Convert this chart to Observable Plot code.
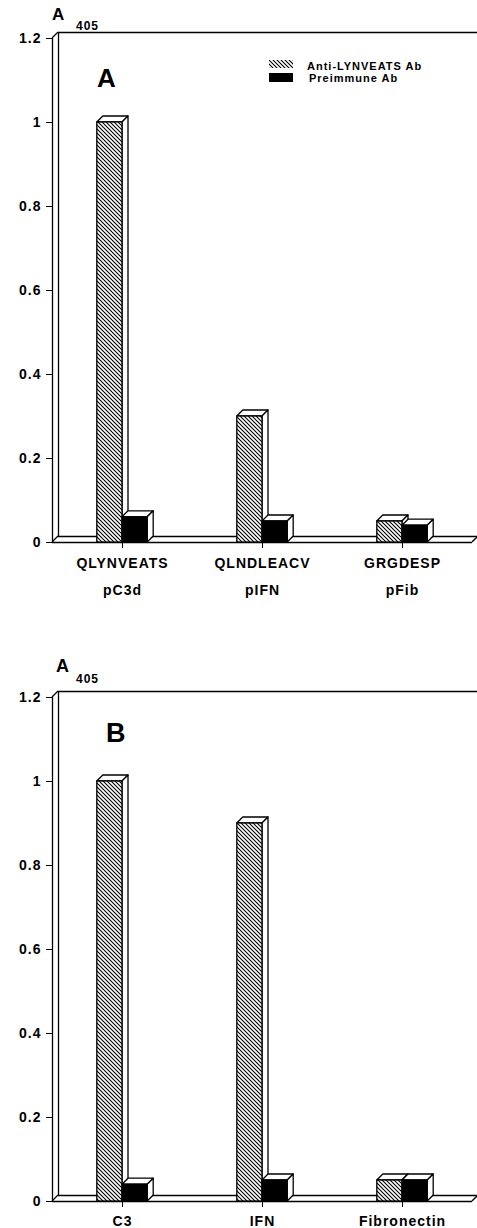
<!DOCTYPE html>
<html><head><meta charset="utf-8">
<script src="https://cdn.jsdelivr.net/npm/d3@7"></script>
<script src="https://cdn.jsdelivr.net/npm/@observablehq/plot@0.6"></script>
<style>
body{margin:0;background:#fff;}
#wrap{position:relative;width:477px;height:1228px;font-family:'Liberation Sans',Arial,sans-serif;font-weight:bold;color:#000;overflow:hidden;}
#wrap > svg{display:block;}
.lbl{position:absolute;line-height:1;white-space:nowrap;letter-spacing:1px;}
</style></head><body><div id="wrap"></div><script>
// ---- data ----
const peptides = ["QLYNVEATS", "QLNDLEACV", "GRGDESP"];
const peptideNames = ["pC3d", "pIFN", "pFib"];
const antiA = [1.0, 0.30, 0.05];
const preA = [0.06, 0.05, 0.04];
const proteins = ["C3", "IFN", "Fibronectin"];
const antiB = [1.0, 0.90, 0.05];
const preB = [0.04, 0.05, 0.05];
const seriesNames = ["Anti-LYNVEATS Ab", "Preimmune Ab"];
const yTicks = [0, 0.2, 0.4, 0.6, 0.8, 1, 1.2];
const yMax = 1.2;

// ---- style constants ----
const DX = 6, DY = 6, BW = 0.18, SW = 1.3;
const FONT = "'Liberation Sans', Arial, sans-serif";

function addHatch(svg, id) {
  const defs = d3.select(svg).insert("defs", ":first-child");
  const p = defs.append("pattern").attr("id", id).attr("patternUnits", "userSpaceOnUse")
    .attr("width", 4).attr("height", 4);
  p.append("rect").attr("width", 4).attr("height", 4).attr("fill", "white");
  p.append("path").attr("d", "M-1,-1L5,5M-1,3L1,5M3,-1L5,1").attr("stroke", "black").attr("stroke-width", 1.1);
}

function faces(vals, a, b) {
  return (index, {x, y}) => {
    const g = d3.create("svg:g").attr("fill", "white").attr("stroke", "black")
      .attr("stroke-width", SW).attr("stroke-linejoin", "round");
    vals.forEach((v, i) => {
      const x1 = x(i + a), x2 = x(i + b), yt = y(v), yb = y(0);
      g.append("path").attr("d", `M${x1},${yt}L${x1 + DX},${yt - DY}L${x2 + DX},${yt - DY}L${x2},${yt}Z`);
      g.append("path").attr("d", `M${x2},${yt}L${x2 + DX},${yt - DY}L${x2 + DX},${yb - DY}L${x2},${yb}Z`);
    });
    return g.node();
  };
}

function edges(index, {x, y}) {
  const g = d3.create("svg:g").attr("stroke", "black").attr("stroke-width", SW);
  const x0 = -0.5, x1 = 2.5;
  for (const [a, b] of [[x0, 0], [x0, yMax], [x1, 0]]) {
    g.append("line").attr("x1", x(a)).attr("y1", y(b)).attr("x2", x(a) + DX).attr("y2", y(b) - DY);
  }
  return g.node();
}

function panel(cats, subs, anti, pre, height, marginTop, marginBottom, dy1, dy2, pid) {
  const marks = [
    Plot.ruleY([0], {x1: -0.5, x2: 2.6, dx: DX, dy: -DY, stroke: "black", strokeWidth: SW}),
    Plot.ruleY([yMax], {x1: -0.5, x2: 2.6, dx: DX, dy: -DY, stroke: "black", strokeWidth: SW}),
    Plot.ruleX([-0.5], {y1: 0, y2: yMax, dx: DX, dy: -DY, stroke: "black", strokeWidth: SW}),
    Plot.ruleX([-0.5], {y1: 0, y2: yMax, stroke: "black", strokeWidth: SW}),
    Plot.ruleY([0], {x1: -0.5, x2: 2.5, stroke: "black", strokeWidth: SW}),
    edges,
    faces(anti, -BW, 0),
    Plot.rect(anti, {x1: (d, i) => i - BW, x2: (d, i) => i, y1: 0, y2: d => d, fill: `url(#${pid})`, stroke: "black", strokeWidth: SW}),
    faces(pre, 0, BW),
    Plot.rect(pre, {x1: (d, i) => i, x2: (d, i) => i + BW, y1: 0, y2: d => d, fill: "black", stroke: "black", strokeWidth: SW}),
    Plot.text(cats, {x: (d, i) => i, y: 0, dy: dy1, text: d => d, fontSize: 14, fontWeight: "bold", fill: "black"})
  ];
  if (subs) marks.push(Plot.text(subs, {x: (d, i) => i, y: 0, dy: dy2, text: d => d, fontSize: 14, fontWeight: "bold", fill: "black"}));
  const svg = Plot.plot({
    width: 477, height, marginLeft: 52, marginRight: 5, marginTop, marginBottom,
    style: {fontFamily: FONT, fontSize: "14px", fontWeight: "bold", letterSpacing: "1px", background: "white", color: "black", overflow: "visible"},
    x: {type: "linear", domain: [-0.5, 2.5], ticks: [0, 1, 2], tickFormat: () => "", tickSize: 6, label: null},
    y: {domain: [0, yMax], ticks: yTicks, tickFormat: d => String(d), tickSize: 6, tickPadding: 5, label: null},
    marks
  });
  addHatch(svg, pid);
  return svg;
}

const wrap = document.getElementById("wrap");
wrap.appendChild(panel(peptides, peptideNames, antiA, preA, 610, 38, 68, 21, 48, "hatchA"));
wrap.appendChild(panel(proteins, null, antiB, preB, 618, 87, 27, 20, 0, "hatchB"));

function label(text, x, baseline, size) {
  const d = document.createElement("div");
  d.className = "lbl";
  d.textContent = text;
  d.style.left = x + "px";
  d.style.top = (baseline - 0.846 * size) + "px";
  d.style.fontSize = size + "px";
  wrap.appendChild(d);
  return d;
}
// axis titles A405
label("A", 52, 20, 17);
label("405", 76, 30.5, 12);
label("A", 56, 672, 18);
label("405", 76, 683, 12);
// panel letters
label("A", 97, 87, 26).style.letterSpacing = "0";
label("B", 106, 743, 27).style.letterSpacing = "0";

// legend
function swatch(x, top, h, fill, id) {
  const ns = "http://www.w3.org/2000/svg";
  const s = d3.create("svg").attr("width", 25).attr("height", h + 1)
    .style("position", "absolute").style("left", x + "px").style("top", top + "px");
  if (id) {
    const p = s.append("defs").append("pattern").attr("id", id).attr("patternUnits", "userSpaceOnUse").attr("width", 4).attr("height", 4);
    p.append("path").attr("d", "M-1,-1L5,5M-1,3L1,5M3,-1L5,1").attr("stroke", "black").attr("stroke-width", 1.1);
  }
  s.append("rect").attr("x", 0).attr("y", 0).attr("width", 24).attr("height", h).attr("fill", fill);
  wrap.appendChild(s.node());
}
swatch(269, 60, 8, "url(#hatchLeg)", "hatchLeg");
swatch(269, 73, 9, "black", null);
label(seriesNames[0], 307, 70, 11);
label(seriesNames[1], 309, 82.5, 11);
</script></body></html>
